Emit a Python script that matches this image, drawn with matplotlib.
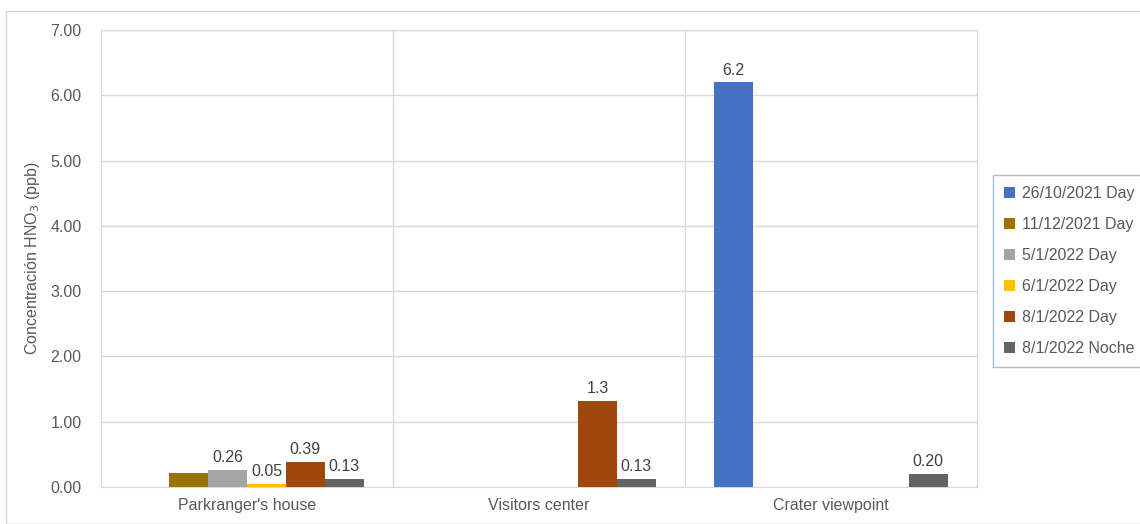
import numpy as np
import matplotlib.pyplot as plt
from matplotlib.patches import Rectangle

plt.rcParams['font.family'] = ['Liberation Sans', 'DejaVu Sans']

sites = ["Parkranger's house", 'Visitors center', 'Crater viewpoint']
series = ['26/10/2021 Day', '11/12/2021 Day', '5/1/2022 Day',
          '6/1/2022 Day', '8/1/2022 Day', '8/1/2022 Noche']
colors = ['#4472C4', '#997300', '#A5A5A5', '#FFC000', '#9E480E', '#636363']

# valores por serie (nan = sin dato)
v_2610 = [np.nan, np.nan, 6.2]
v_1112 = [0.21, np.nan, np.nan]
v_0501 = [0.26, np.nan, np.nan]
v_0601 = [0.05, np.nan, np.nan]
v_0801d = [0.39, 1.32, np.nan]
v_0801n = [0.13, 0.13, 0.20]
values = [v_2610, v_1112, v_0501, v_0601, v_0801d, v_0801n]

# etiquetas tal como aparecen
l_2610 = ['', '', '6.2']
l_1112 = ['', '', '']
l_0501 = ['0.26', '', '']
l_0601 = ['0.05', '', '']
l_0801d = ['0.39', '1.3', '']
l_0801n = ['0.13', '0.13', '0.20']
labels = [l_2610, l_1112, l_0501, l_0601, l_0801d, l_0801n]

txt = '#595959'
fig = plt.figure(figsize=(11.4, 5.24), dpi=100)
ax = fig.add_axes([101/1140, 37/524, 876/1140, 457/524])

x = np.arange(len(sites))
w = 1 / 7.5
for i, (name, vals, labs) in enumerate(zip(series, values, labels)):
    pos = x - 3 * w + w / 2 + i * w
    ax.bar(pos, vals, w, color=colors[i], label=name, zorder=3)
    for p, v, l in zip(pos, vals, labs):
        if l:
            ax.text(p, v + 0.07, l, ha='center', va='bottom', fontsize=11.5, color='#404040')

ax.set_xlim(-0.5, 2.5)
ax.set_ylim(0, 7)
ax.set_yticks(np.arange(0, 7.01, 1))
ax.set_yticklabels(['%.2f' % t for t in np.arange(0, 7.01, 1)])
ax.set_xticks(x)
ax.set_xticklabels(sites)
ax.tick_params(colors=txt, labelsize=11.5, length=0, pad=8)
ax.tick_params(axis='y', pad=14)
ax.grid(axis='y', color='#D9D9D9', lw=1, zorder=0)
for b in [0.5, 1.5]:
    ax.axvline(b, color='#D9D9D9', lw=1, zorder=0)
for s in ['top', 'right', 'left', 'bottom']:
    ax.spines[s].set_color('#D9D9D9')
ax.set_ylabel('Concentración HNO$_3$ (ppb)', color=txt, fontsize=11.5, labelpad=6)

leg = ax.legend(loc='upper left', bbox_to_anchor=(1.018, 0.683), borderaxespad=0,
                fontsize=11.5, frameon=True, fancybox=False, handlelength=0.7,
                handleheight=0.7, handletextpad=0.4, labelspacing=1.0, borderpad=0.7)
leg.get_frame().set_edgecolor('#8FAADC')
leg.get_frame().set_linewidth(1)
for t in leg.get_texts():
    t.set_color(txt)

fig.patches.append(Rectangle((6/1140, 0), 1.2, 1 - 11/524, transform=fig.transFigure,
                             fill=False, edgecolor='#D9D9D9', lw=1))

fig.savefig('out.png', dpi=100)
